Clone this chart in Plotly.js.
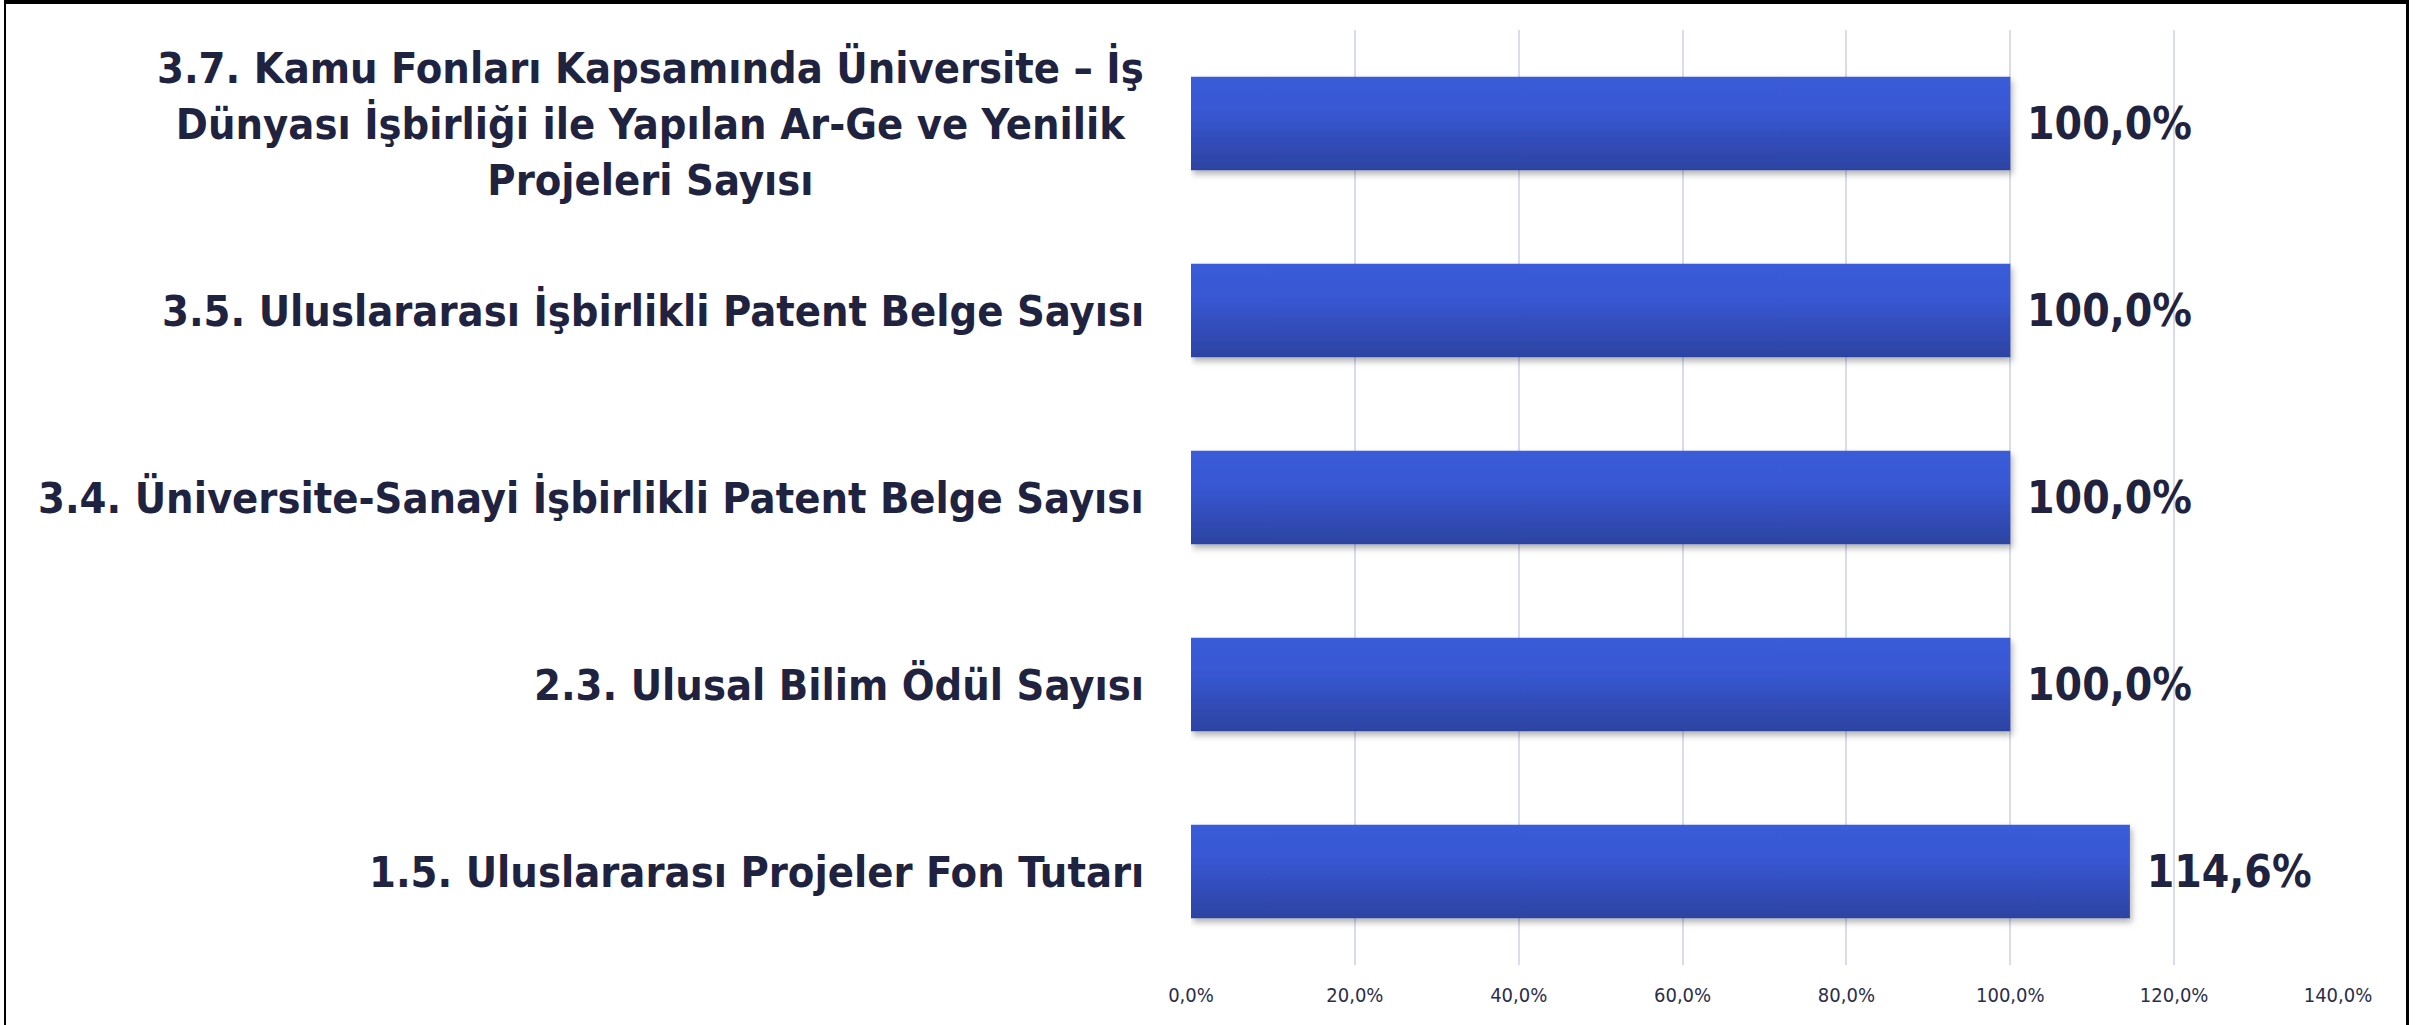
<!DOCTYPE html>
<html>
<head>
<meta charset="utf-8">
<script src="https://cdn.plot.ly/plotly-3.0.1.min.js"></script>
<style>
  html, body { margin: 0; padding: 0; background: #ffffff; overflow: hidden; }
  #chart { position: absolute; left: 0; top: 0; width: 2428px; height: 1025px; }
  #frame { position: absolute; left: 4px; top: 0; width: 2405px; height: 1025px;
           box-sizing: border-box; border-top: 4px solid #000; border-left: 2px solid #000;
           border-right: 3px solid #000; pointer-events: none; }
</style>
</head>
<body>
<div id="chart"></div>
<div id="frame"></div>
<script>
// ---- data ----
const categories = [
  "1.5. Uluslararası Projeler Fon Tutarı",
  "2.3. Ulusal Bilim Ödül Sayısı",
  "3.4. Üniversite-Sanayi İşbirlikli Patent Belge Sayısı",
  "3.5. Uluslararası İşbirlikli Patent Belge Sayısı",
  "3.7. Kamu Fonları Kapsamında Üniversite – İş Dünyası İşbirliği ile Yapılan Ar-Ge ve Yenilik Projeleri Sayısı"
];
const categoryLabels = [
  "1.5. Uluslararası Projeler Fon Tutarı",
  "2.3. Ulusal Bilim Ödül Sayısı",
  "3.4. Üniversite-Sanayi İşbirlikli Patent Belge Sayısı",
  "3.5. Uluslararası İşbirlikli Patent Belge Sayısı",
  "3.7. Kamu Fonları Kapsamında Üniversite – İş<br>Dünyası İşbirliği ile Yapılan Ar-Ge ve Yenilik<br>Projeleri Sayısı"
];
const values = [114.6, 100.0, 100.0, 100.0, 100.0];
const tickVals = [0, 20, 40, 60, 80, 100, 120, 140];
const tickLabels = ["0,0%", "20,0%", "40,0%", "60,0%", "80,0%", "100,0%", "120,0%", "140,0%"];

// ---- style ----
const FONT = "'Liberation Sans Narrow', 'Arial Narrow', 'DejaVu Sans Condensed', Lato, sans-serif";
const TEXT_COLOR = "#1f2340";

const trace = {
  type: "bar",
  orientation: "h",
  y: categories,
  x: values,
  marker: { color: "#3350c6", line: { width: 0 } },
  texttemplate: "\u00a0%{x:.1f}%",
  textposition: "outside",
  textfont: { family: FONT, size: 44, color: TEXT_COLOR, weight: "bold" },
  cliponaxis: false,
  hoverinfo: "none"
};

const annotations = categories.map((c, i) => ({
  x: 0, xref: "paper", xshift: -45, xanchor: "right",
  y: i, yref: "y", yanchor: "middle",
  text: categoryLabels[i],
  showarrow: false,
  align: "center",
  font: { family: FONT, size: 43, color: TEXT_COLOR, weight: "bold" }
}));

const layout = {
  width: 2428, height: 1025,
  margin: { l: 1191, r: 90, t: 30, b: 60, pad: 0 },
  paper_bgcolor: "#ffffff", plot_bgcolor: "#ffffff",
  separators: ",.",
  bargap: 0.5,
  showlegend: false,
  xaxis: {
    range: [0, 140],
    tickmode: "array", tickvals: tickVals, ticktext: tickLabels,
    showgrid: true, gridcolor: "#d9dbef", gridwidth: 2,
    zeroline: false, showline: false, ticks: "",
    ticklabelstandoff: 16,
    tickfont: { family: FONT, size: 20, color: "#2b2e4a" }
  },
  yaxis: {
    type: "category", categoryorder: "array", categoryarray: categories,
    showticklabels: false, showgrid: false, zeroline: false, showline: false, ticks: ""
  },
  annotations: annotations
};

Plotly.newPlot("chart", [trace], layout, { staticPlot: true, displayModeBar: false }).then(gd => {
  // vertical gradient + soft shadow on bars
  const svg = gd.querySelector("svg.main-svg");
  const ns = "http://www.w3.org/2000/svg";
  let defs = svg.querySelector("defs");
  if (!defs) { defs = document.createElementNS(ns, "defs"); svg.insertBefore(defs, svg.firstChild); }
  const grad = document.createElementNS(ns, "linearGradient");
  grad.setAttribute("id", "barGrad");
  grad.setAttribute("x1", "0"); grad.setAttribute("y1", "0");
  grad.setAttribute("x2", "0"); grad.setAttribute("y2", "1");
  [["0", "#3a5bd8"], ["0.35", "#3858d4"], ["1", "#2c43a1"]].forEach(([o, c]) => {
    const s = document.createElementNS(ns, "stop");
    s.setAttribute("offset", o); s.setAttribute("stop-color", c);
    grad.appendChild(s);
  });
  defs.appendChild(grad);
  const filt = document.createElementNS(ns, "filter");
  filt.setAttribute("id", "barShadow");
  filt.setAttribute("x", "-5%"); filt.setAttribute("y", "-20%");
  filt.setAttribute("width", "110%"); filt.setAttribute("height", "150%");
  const ds = document.createElementNS(ns, "feDropShadow");
  ds.setAttribute("dx", "2"); ds.setAttribute("dy", "4");
  ds.setAttribute("stdDeviation", "3"); ds.setAttribute("flood-color", "#000");
  ds.setAttribute("flood-opacity", "0.3");
  filt.appendChild(ds);
  defs.appendChild(filt);
  gd.querySelectorAll(".barlayer .point path").forEach(p => {
    p.style.fill = "url(#barGrad)";
    p.setAttribute("filter", "url(#barShadow)");
  });
});
</script>
</body>
</html>
